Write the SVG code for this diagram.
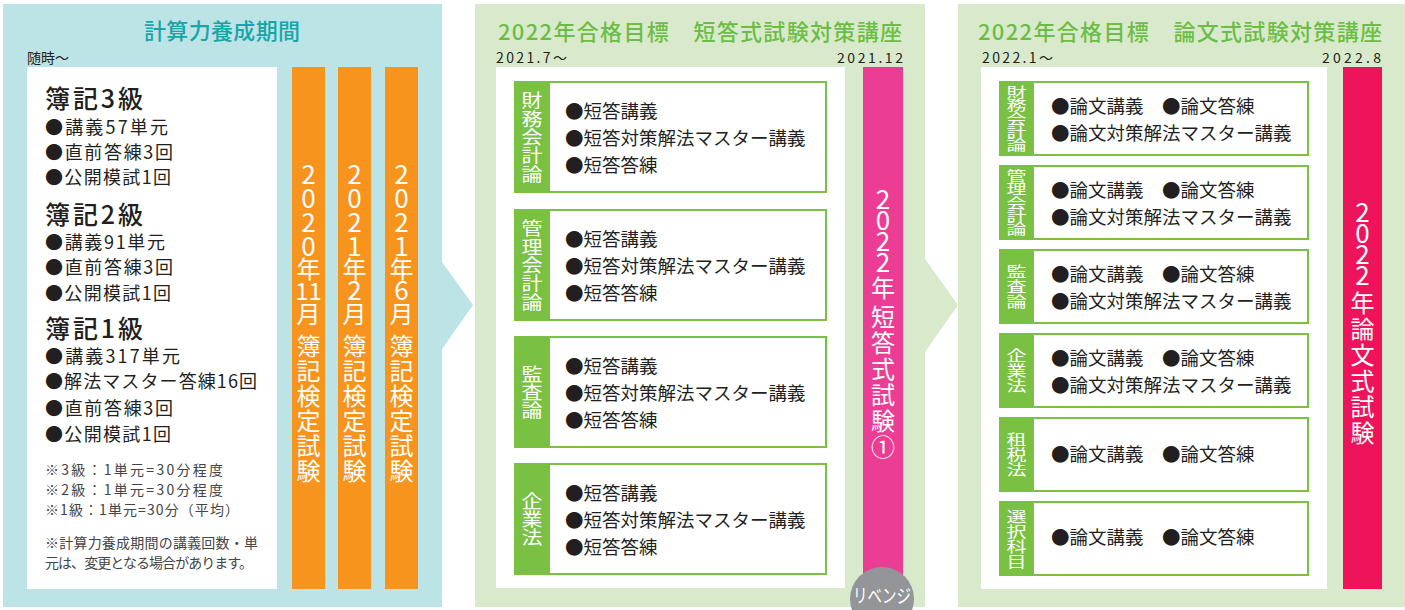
<svg xmlns="http://www.w3.org/2000/svg" width="1405" height="610" viewBox="0 0 1405 610">
<style>
text{font-family:"Noto Sans CJK JP","Noto Sans CJK SC",sans-serif;fill:#231f20}
.t1{font-size:22px;fill:#16a6a8;font-weight:500}
.tg{font-size:22px;fill:#6cbd45;font-weight:500}
.date{font-size:14px}
.hd{font-size:25px;font-weight:500}
.it{font-size:18px}
.nt{font-size:14px;fill:#444}
.si{font-size:18.5px}
.vt{writing-mode:vertical-rl;text-orientation:upright;fill:#fff;font-size:24px}
.dg{font-size:26px}
.hz{fill:#fff;text-anchor:middle}
.lb2{font-size:21px;letter-spacing:-0.1px}
.lb3{font-size:20px}
.box{fill:#fff;stroke:#7ac143;stroke-width:2}
.lab{fill:#7ac143}
.orange{fill:#f7941d}
</style>

<g id="connectors">
<polygon points="3,4 442,4 442,262 473,305 442,349 442,607 3,607" fill="#bce3e5"/>
<polygon points="475,4 925,4 925,259 958,305 925,352 925,607 475,607" fill="#d9eacc"/>
</g>

<g id="panel-keisan">
<text class="t1" x="222" y="39" text-anchor="middle" textLength="156">計算力養成期間</text>
<text class="date" x="27" y="63">随時〜</text>
<rect x="27" y="67" width="250" height="522" fill="#fff"/>
<text class="hd" x="45" y="108" textLength="98">簿記3級</text>
<text class="it" x="45" y="134" textLength="123">●講義57単元</text>
<text class="it" x="45" y="159" textLength="128">●直前答練3回</text>
<text class="it" x="45" y="184" textLength="126">●公開模試1回</text>
<text class="hd" x="45" y="224" textLength="98">簿記2級</text>
<text class="it" x="45" y="249" textLength="120">●講義91単元</text>
<text class="it" x="45" y="274" textLength="128">●直前答練3回</text>
<text class="it" x="45" y="300" textLength="126">●公開模試1回</text>
<text class="hd" x="45" y="338" textLength="98">簿記1級</text>
<text class="it" x="45" y="363" textLength="135">●講義317単元</text>
<text class="it" x="45" y="388" textLength="212">●解法マスター答練16回</text>
<text class="it" x="45" y="415" textLength="128">●直前答練3回</text>
<text class="it" x="45" y="441" textLength="126">●公開模試1回</text>
<text class="nt" x="45" y="475" textLength="178">※3級：1単元=30分程度</text>
<text class="nt" x="45" y="495" textLength="178">※2級：1単元=30分程度</text>
<text class="nt" x="45" y="515" textLength="194">※1級：1単元=30分（平均）</text>
<text class="nt" x="45" y="548" textLength="213">※計算力養成期間の講義回数・単</text>
<text class="nt" x="45" y="568" textLength="208">元は、変更となる場合があります。</text>
</g>

<g id="bar-2020-11">
<rect class="orange" x="292" y="67" width="33" height="522"/>
<text class="vt" x="308.5" y="161"><tspan class="dg" style="letter-spacing:-2px">2020</tspan>年</text>
<text class="hz" x="308.5" y="300" style="font-size:24px">11</text>
<text class="vt" x="308.5" y="302">月</text>
<text class="vt" x="308.5" y="334" style="letter-spacing:1px">簿記検定試験</text>
</g>
<g id="bar-2021-2">
<rect class="orange" x="338" y="67" width="33" height="522"/>
<text class="vt" x="354.5" y="161"><tspan class="dg" style="letter-spacing:-2px">2021</tspan>年</text>
<text class="hz" x="354.5" y="300" style="font-size:26px">2</text>
<text class="vt" x="354.5" y="302">月</text>
<text class="vt" x="354.5" y="334" style="letter-spacing:1px">簿記検定試験</text>
</g>
<g id="bar-2021-6">
<rect class="orange" x="385" y="67" width="33" height="522"/>
<text class="vt" x="401.5" y="161"><tspan class="dg" style="letter-spacing:-2px">2021</tspan>年</text>
<text class="hz" x="401.5" y="300" style="font-size:26px">6</text>
<text class="vt" x="401.5" y="302">月</text>
<text class="vt" x="401.5" y="334" style="letter-spacing:1px">簿記検定試験</text>
</g>

<g id="panel-tanto">
<text class="tg" x="498" y="40" textLength="404">2022年合格目標　短答式試験対策講座</text>
<text class="date" x="496" y="63" textLength="71">2021.7〜</text>
<text class="date" x="903" y="63" text-anchor="end" textLength="66">2021.12</text>
<rect x="496" y="67" width="349" height="521" fill="#fff"/>
</g>

<g id="tanto-zaimu">
<rect class="box" x="515" y="82" width="311" height="110"/>
<rect class="lab" x="514" y="81" width="36" height="112"/>
<g transform="translate(532,137) scale(1,0.88)"><text class="vt lb2" x="0" y="-52.3">財務会計論</text></g>
<text class="si" x="565" y="118">●短答講義</text>
<text class="si" x="565" y="145">●短答対策解法マスター講義</text>
<text class="si" x="565" y="172">●短答答練</text>
</g>
<g id="tanto-kanri">
<rect class="box" x="515" y="210" width="311" height="110"/>
<rect class="lab" x="514" y="209" width="36" height="112"/>
<g transform="translate(532,265) scale(1,0.88)"><text class="vt lb2" x="0" y="-52.3">管理会計論</text></g>
<text class="si" x="565" y="246">●短答講義</text>
<text class="si" x="565" y="273">●短答対策解法マスター講義</text>
<text class="si" x="565" y="300">●短答答練</text>
</g>
<g id="tanto-kansa">
<rect class="box" x="515" y="337" width="311" height="110"/>
<rect class="lab" x="514" y="336" width="36" height="112"/>
<g transform="translate(532,392) scale(1,0.88)"><text class="vt lb2" x="0" y="-31.4">監査論</text></g>
<text class="si" x="565" y="373">●短答講義</text>
<text class="si" x="565" y="400">●短答対策解法マスター講義</text>
<text class="si" x="565" y="427">●短答答練</text>
</g>
<g id="tanto-kigyo">
<rect class="box" x="515" y="464" width="311" height="110"/>
<rect class="lab" x="514" y="463" width="36" height="112"/>
<g transform="translate(532,519) scale(1,0.88)"><text class="vt lb2" x="0" y="-31.4">企業法</text></g>
<text class="si" x="565" y="500">●短答講義</text>
<text class="si" x="565" y="527">●短答対策解法マスター講義</text>
<text class="si" x="565" y="554">●短答答練</text>
</g>

<g id="bar-tanto-exam">
<rect x="863" y="67" width="40" height="515" fill="#ec3d95"/>
<text class="vt dg" x="883" y="186" style="letter-spacing:-5px">2022</text>
<text class="vt" x="883" y="276">年</text>
<text class="vt" x="883" y="305" style="letter-spacing:2px">短答式試験①</text>
</g>
<g id="revenge">
<circle cx="882" cy="599" r="32" fill="#939598"/>
<text x="882" y="603" text-anchor="middle" textLength="58" lengthAdjust="spacingAndGlyphs" style="font-size:19px;fill:#fff">リベンジ</text>
</g>

<g id="panel-ronbun">
<rect x="958" y="4" width="447" height="603" fill="#d9eacc"/>
<text class="tg" x="978" y="40" textLength="404">2022年合格目標　論文式試験対策講座</text>
<text class="date" x="982" y="63" textLength="71">2022.1〜</text>
<text class="date" x="1381" y="63" text-anchor="end" textLength="59">2022.8</text>
<rect x="981" y="67" width="346" height="522" fill="#fff"/>
</g>

<g id="ronbun-zaimu">
<rect class="box" x="1000" y="82" width="308" height="73"/>
<rect class="lab" x="999" y="81" width="35" height="75"/>
<g transform="translate(1016.5,118.5) scale(1,0.66)"><text class="vt lb3" x="0" y="-50">財務会計論</text></g>
<text class="si" x="1051" y="113">●論文講義　●論文答練</text>
<text class="si" x="1051" y="140">●論文対策解法マスター講義</text>
</g>
<g id="ronbun-kanri">
<rect class="box" x="1000" y="166" width="308" height="73"/>
<rect class="lab" x="999" y="165" width="35" height="75"/>
<g transform="translate(1016.5,202.5) scale(1,0.66)"><text class="vt lb3" x="0" y="-50">管理会計論</text></g>
<text class="si" x="1051" y="197">●論文講義　●論文答練</text>
<text class="si" x="1051" y="224">●論文対策解法マスター講義</text>
</g>
<g id="ronbun-kansa">
<rect class="box" x="1000" y="250" width="308" height="73"/>
<rect class="lab" x="999" y="249" width="35" height="75"/>
<g transform="translate(1016.5,286.5) scale(1,0.75)"><text class="vt lb3" x="0" y="-30">監査論</text></g>
<text class="si" x="1051" y="281">●論文講義　●論文答練</text>
<text class="si" x="1051" y="308">●論文対策解法マスター講義</text>
</g>
<g id="ronbun-kigyo">
<rect class="box" x="1000" y="334" width="308" height="73"/>
<rect class="lab" x="999" y="333" width="35" height="75"/>
<g transform="translate(1016.5,370.5) scale(1,0.75)"><text class="vt lb3" x="0" y="-30">企業法</text></g>
<text class="si" x="1051" y="365">●論文講義　●論文答練</text>
<text class="si" x="1051" y="392">●論文対策解法マスター講義</text>
</g>
<g id="ronbun-sozei">
<rect class="box" x="1000" y="418" width="308" height="73"/>
<rect class="lab" x="999" y="417" width="35" height="75"/>
<g transform="translate(1016.5,454.5) scale(1,0.75)"><text class="vt lb3" x="0" y="-30">租税法</text></g>
<text class="si" x="1051" y="461">●論文講義　●論文答練</text>
</g>
<g id="ronbun-sentaku">
<rect class="box" x="1000" y="502" width="308" height="73"/>
<rect class="lab" x="999" y="501" width="35" height="75"/>
<g transform="translate(1016.5,538.5) scale(1,0.75)"><text class="vt lb3" x="0" y="-40">選択科目</text></g>
<text class="si" x="1051" y="544">●論文講義　●論文答練</text>
</g>

<g id="bar-ronbun-exam">
<rect x="1343" y="67" width="39" height="522" fill="#ee145b"/>
<text class="vt dg" x="1362.5" y="199" style="letter-spacing:-5px">2022</text>
<text class="vt" x="1362.5" y="291" style="letter-spacing:2px">年論文式試験</text>
</g>
</svg>
